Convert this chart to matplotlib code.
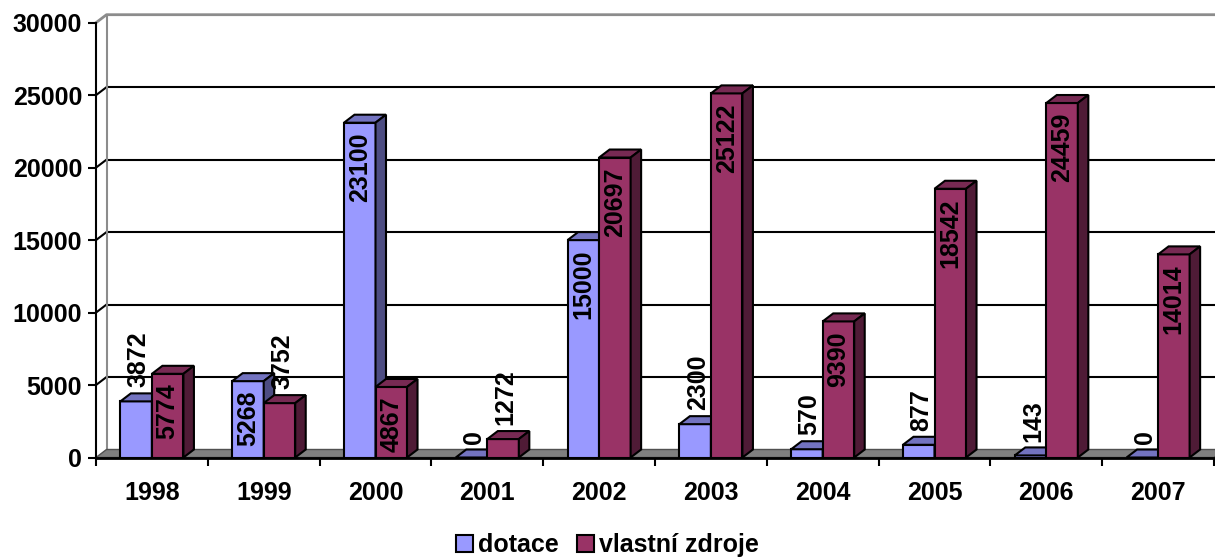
import matplotlib.pyplot as plt
from matplotlib.patches import Polygon, Patch
import numpy as np

plt.rcParams['font.family'] = ['Liberation Sans', 'DejaVu Sans']
plt.rcParams['font.weight'] = 'bold'

years = ['1998', '1999', '2000', '2001', '2002', '2003', '2004', '2005', '2006', '2007']
dotace = [3872, 5268, 23100, 0, 15000, 2300, 570, 877, 143, 0]
vlastni = [5774, 3752, 4867, 1272, 20697, 25122, 9390, 18542, 24459, 14014]
series_names = ['dotace', 'vlastní zdroje']

# front / top / side colours of the pseudo 3D columns
colors = [('#9999FF', '#7373C0', '#4D4D82'), ('#993366', '#772A53', '#4F1B36')]

fig = plt.figure(figsize=(12.15, 5.6), dpi=100)
ax = fig.add_axes([96 / 1215, 102.5 / 560, 1118 / 1215, 434.8 / 560])
ax.set_xlim(-0.5, 9.5)
ax.set_ylim(0, 30000)

# depth of the 3D effect in data units
px_x = 1118 / 10
px_y = 434.8 / 30000
dx = 10.5 / px_x
dy = 8 / px_y
x0 = -0.5
x1 = 9.5

# back wall + gridlines
wall = Polygon([(x0 + dx, dy), (x1 + dx, dy), (x1 + dx, 30000 + dy), (x0 + dx, 30000 + dy)],
               closed=True, facecolor='white', edgecolor='none', zorder=0.5, clip_on=False)
ax.add_patch(wall)
for v in range(5000, 30000, 5000):
    ax.plot([x0 + dx, x1 + dx], [v + dy, v + dy], color='black', lw=1.5, zorder=1, clip_on=False)
    ax.plot([x0, x0 + dx], [v, v + dy], color='black', lw=1.5, zorder=1, clip_on=False)
ax.plot([x0, x0 + dx, x1 + dx], [30000, 30000 + dy, 30000 + dy], color='#8C8C8C', lw=2, zorder=1, clip_on=False)
ax.plot([x0 + dx, x0 + dx], [dy, 30000 + dy], color='#8C8C8C', lw=1.5, zorder=1, clip_on=False)

# floor
floor = Polygon([(x0, 0), (x1, 0), (x1 + dx, dy), (x0 + dx, dy)], closed=True,
                facecolor='#808080', edgecolor='#505050', lw=1, zorder=1.5, clip_on=False)
ax.add_patch(floor)

w = 0.282
x = np.arange(len(years))
for s, vals in enumerate([dotace, vlastni]):
    front, top, side = colors[s]
    z = 3 + s
    lefts = x - w + s * w
    ax.bar(lefts, vals, width=w, align='edge', color=front, edgecolor='black', lw=1.5, zorder=z)
    for xl, v in zip(lefts, vals):
        ax.add_patch(Polygon([(xl, v), (xl + w, v), (xl + w + dx, v + dy), (xl + dx, v + dy)],
                             closed=True, facecolor=top, edgecolor='black', lw=1.5, zorder=z, clip_on=False))
        ax.add_patch(Polygon([(xl + w, 0), (xl + w + dx, dy), (xl + w + dx, v + dy), (xl + w, v)],
                             closed=True, facecolor=side, edgecolor='black', lw=1.5, zorder=z, clip_on=False))
        xc = xl + w / 2
        if v >= 4000:
            ax.annotate(str(v), (xc, v), xytext=(0, -7), textcoords='offset points',
                        rotation=90, ha='center', va='top', fontsize=18, fontweight='bold', zorder=6)
        else:
            ax.annotate(str(v), (xc, v), xytext=(2, 10), textcoords='offset points',
                        rotation=90, ha='center', va='bottom', fontsize=18, fontweight='bold', zorder=6)

# axes
for sp in ['top', 'right']:
    ax.spines[sp].set_visible(False)
ax.spines['left'].set_linewidth(1.5)
ax.spines['bottom'].set_linewidth(2)
ax.spines['bottom'].set_zorder(2)
ax.set_facecolor('none')

ax.set_yticks(range(0, 30001, 5000))
ax.tick_params(axis='y', length=6, width=1.5, pad=4, labelsize=18)
ax.set_xticks(np.arange(-0.5, 10, 1))
ax.set_xticklabels([])
ax.tick_params(axis='x', which='major', length=6, width=1.5)
ax.set_xticks(x, minor=True)
ax.set_xticklabels(years, minor=True)
ax.tick_params(axis='x', which='minor', length=0, pad=17, labelsize=18)
for lab in ax.get_xticklabels(minor=True) + ax.get_yticklabels():
    lab.set_fontweight('bold')

handles = [Patch(facecolor=colors[i][0], edgecolor='black', lw=1.5) for i in range(2)]
fig.legend(handles, series_names, loc='center', bbox_to_anchor=(0.5, 0.026), ncol=2, frameon=False,
           fontsize=18, handlelength=0.7, handleheight=0.7, handletextpad=0.2, columnspacing=0.7,
           prop={'weight': 'bold', 'size': 18})

fig.savefig('out.png', dpi=100)
